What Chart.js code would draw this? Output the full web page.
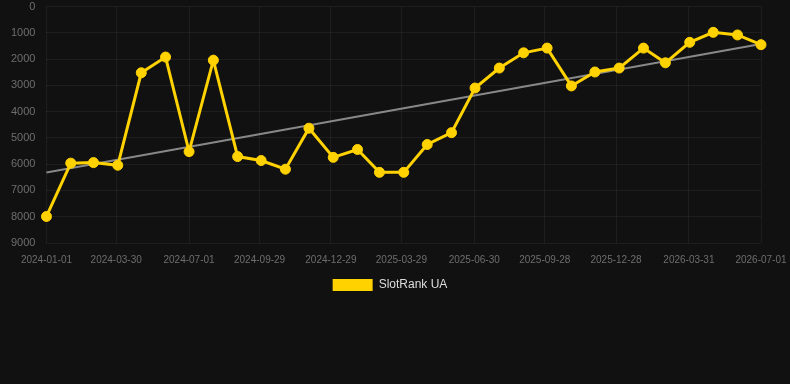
<!DOCTYPE html>
<html>
<head>
<meta charset="utf-8">
<script src="https://cdn.jsdelivr.net/npm/chart.js@4/dist/chart.umd.min.js"></script>
<style>
  html, body { margin: 0; padding: 0; background: #111111; }
  #wrap { width: 790px; height: 301px; position: relative; }
  body { width: 790px; height: 384px; overflow: hidden; }
</style>
</head>
<body>
<div id="wrap"><canvas id="c"></canvas></div>
<script>
const dates = [
  '2024-01-01','2024-02-01','2024-03-01','2024-04-01','2024-05-01','2024-06-01',
  '2024-07-01','2024-08-01','2024-09-01','2024-10-01','2024-11-01','2024-12-01',
  '2025-01-01','2025-02-01','2025-03-01','2025-04-01','2025-05-01','2025-06-01',
  '2025-07-01','2025-08-01','2025-09-01','2025-10-01','2025-11-01','2025-12-01',
  '2026-01-01','2026-02-01','2026-03-01','2026-04-01','2026-05-01','2026-06-01',
  '2026-07-01'
];
const rankValues = [
  7990, 5960, 5940, 6040, 2520, 1920, 5520, 2040, 5710, 5860, 6190,
  4630, 5740, 5440, 6310, 6310, 5250, 4800, 3100, 2340, 1760, 1580,
  3020, 2490, 2340, 1580, 2140, 1360, 980, 1080, 1450
];
const trendDates = ['2024-01-01', '2026-07-01'];
const trendValues = [6320, 1420];
const tickDates = [
  '2024-01-01','2024-03-30','2024-07-01','2024-09-29','2024-12-29','2025-03-29',
  '2025-06-30','2025-09-28','2025-12-28','2026-03-31','2026-07-01'
];
const seriesName = 'SlotRank UA';

const toTs = d => Date.parse(d);
const labelFor = {};
tickDates.forEach(d => { labelFor[toTs(d)] = d; });

const legendShift = {
  id: 'legendShift',
  afterLayout(chart) {
    if (chart.legend) { chart.legend.left += 4; chart.legend.right += 4; }
  }
};

new Chart(document.getElementById('c'), {
  type: 'line',
  data: {
    datasets: [
      {
        label: seriesName,
        data: dates.map((d, i) => ({ x: toTs(d), y: rankValues[i] })),
        borderColor: '#FFD200',
        backgroundColor: '#FFD200',
        borderWidth: 3,
        pointRadius: 5,
        pointHoverRadius: 5,
        pointBackgroundColor: '#FFD200',
        pointBorderColor: '#FFD200',
        pointBorderWidth: 1,
        tension: 0,
        clip: false,
        order: 1
      },
      {
        label: 'trend',
        data: trendDates.map((d, i) => ({ x: toTs(d), y: trendValues[i] })),
        borderColor: 'rgba(150,150,150,0.9)',
        backgroundColor: 'rgba(150,150,150,0.9)',
        borderWidth: 2,
        pointRadius: 0,
        tension: 0,
        clip: false,
        order: 2
      }
    ]
  },
  plugins: [legendShift],
  options: {
    responsive: true,
    maintainAspectRatio: false,
    animation: false,
    layout: { padding: { left: 11, right: 29, top: 0, bottom: 0 } },
    scales: {
      x: {
        type: 'linear',
        min: toTs(tickDates[0]),
        max: toTs(tickDates[tickDates.length - 1]),
        afterBuildTicks: axis => {
          axis.ticks = tickDates.map(d => ({ value: toTs(d) }));
        },
        ticks: {
          color: '#6e6e6e',
          font: { size: 10, family: 'Liberation Sans, Arial, sans-serif' },
          maxRotation: 0,
          autoSkip: false,
          callback: v => labelFor[v] || ''
        },
        grid: { color: 'rgba(255,255,255,0.055)', tickColor: 'transparent' },
        border: { display: false }
      },
      y: {
        reverse: true,
        min: 0,
        max: 9000,
        ticks: {
          stepSize: 1000,
          padding: 0,
          color: '#6e6e6e',
          font: { size: 11, family: 'Liberation Sans, Arial, sans-serif' },
          callback: v => String(v)
        },
        grid: { color: 'rgba(255,255,255,0.055)', tickColor: 'transparent', tickLength: 11 },
        border: { display: false }
      }
    },
    plugins: {
      legend: {
        position: 'bottom',
        labels: {
          color: '#dddddd',
          font: { size: 12, family: 'Liberation Sans, Arial, sans-serif' },
          boxWidth: 40,
          generateLabels: chart => Chart.defaults.plugins.legend.labels.generateLabels(chart)
            .filter(item => item.text === seriesName)
            .map(item => Object.assign(item, { lineWidth: 0 }))
        }
      },
      tooltip: { enabled: false }
    }
  }
});
</script>
</body>
</html>
